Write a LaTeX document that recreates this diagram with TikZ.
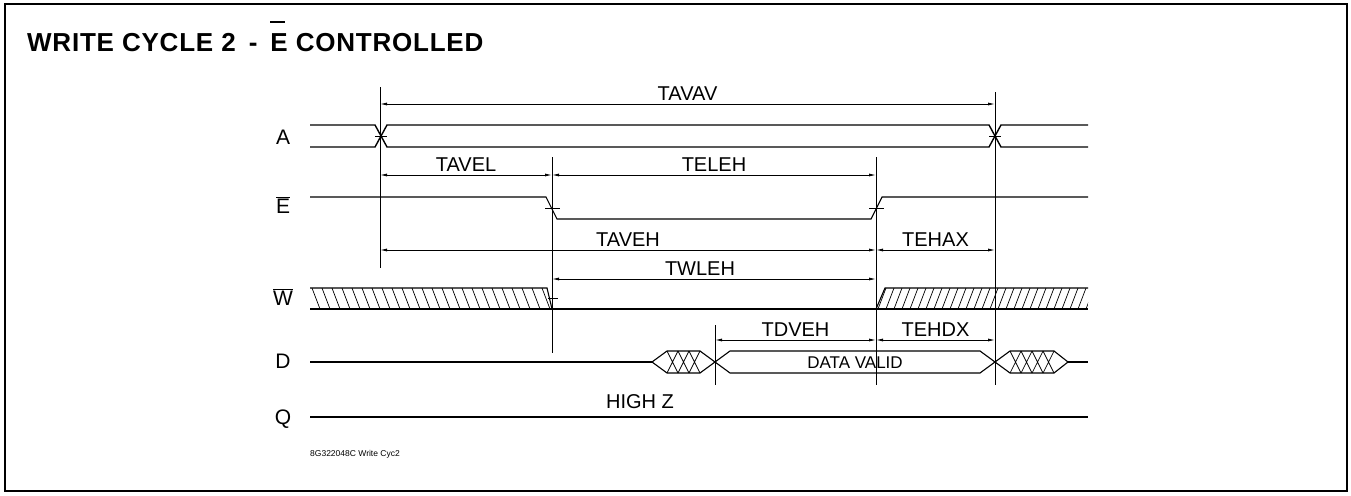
\documentclass[tikz,border=0pt]{standalone}
\usepackage{fontspec}
\setmainfont{Liberation Sans}
\usetikzlibrary{arrows.meta,positioning}

\begin{document}
\begin{tikzpicture}[
  x=1pt,y=-1pt,
  bus/.style={line width=1.4pt},
  wave/.style={line width=1.1pt},
  tline/.style={line width=0.8pt},
  hatch/.style={line width=0.7pt},
  tick/.style={line width=0.6pt},
  dim/.style={{Latex[length=7pt,width=3pt]}-{Latex[length=7pt,width=3pt]},line width=0.8pt},
  dimtext/.style={font=\fontsize{20}{22}\selectfont,inner sep=0pt},
  sigtext/.style={font=\fontsize{21}{23}\selectfont,inner sep=0pt,anchor=base}
]
\useasboundingbox (0,0) rectangle (1351,495);
\draw[line width=2.2pt] (5,4) rectangle (1347,491);

% title
\node[anchor=base west,inner sep=0pt,font=\bfseries\fontsize{26}{29}\selectfont\addfontfeature{LetterSpace=3}] (title) at (27,52)
  {WRITE CYCLE 2\hspace{13pt}-\hspace{13pt}\makebox[0pt][l]{\raisebox{29pt}{\rule{15pt}{2pt}}}E CONTROLLED};

% signal names
\node[sigtext] (sigA) at (283,144) {A};
\node[sigtext] (sigE) at (283,213) {$\overline{\mbox{E}}$};
\node[sigtext] (sigW) at (283,305) {$\overline{\mbox{W}}$};
\node[sigtext] (sigD) at (283,368) {D};
\node[sigtext] (sigQ) at (283,424) {Q};

% timing edges
\coordinate (a0) at (380,87);  \coordinate (a1) at (380,268);
\coordinate (e0) at (552,157); \coordinate (e1) at (552,353);
\coordinate (h0) at (876,157); \coordinate (h1) at (876,385);
\coordinate (b0) at (995,92);  \coordinate (b1) at (995,385);
\coordinate (d0) at (715,325); \coordinate (d1) at (715,385);
\draw[tline] (a0) -- (a1);
\draw[tline] (e0) -- (e1);
\draw[tline] (h0) -- (h1);
\draw[tline] (b0) -- (b1);
\draw[tline] (d0) -- (d1);

% A
\draw[bus] (310,125) -- (375,125) -- (387,147) -- (989,147) -- (1001,125) -- (1088,125);
\draw[bus] (310,147) -- (375,147) -- (387,125) -- (989,125) -- (1001,147) -- (1088,147);
\draw[tick] (375,136) -- (387,136) (989,136) -- (1001,136);

% E
\draw[wave] (310,197) -- (546,197) -- (557,219) -- (871,219) -- (882,197) -- (1088,197);
\draw[tick] (545,208) -- (560,208) (869,208) -- (884,208);

% W
\begin{scope}
  \clip (310,288) -- (547,288) -- (552,309) -- (310,309) -- cycle;
  \foreach \x in {302,312,...,562} \draw[hatch] (\x,288) -- (\x+8,309);
\end{scope}
\begin{scope}
  \clip (876,309) -- (885,288) -- (1088,288) -- (1088,309) -- cycle;
  \foreach \x in {878,886,...,1102} \draw[hatch] (\x,309) -- (\x+8,288);
\end{scope}
\draw[wave] (310,288) -- (547,288) -- (552,309);
\draw[wave] (876,309) -- (885,288) -- (1088,288);
\draw[line width=1.7pt] (310,309) -- (1088,309);
\draw[tick] (548,298) -- (558,298);

% D
\draw[wave] (310,362) -- (652,362);
\draw[wave] (652,362) -- (667,351) -- (700,351) -- (715,362) -- (700,373) -- (667,373) -- cycle;
\foreach \x in {667,678,689} \draw[hatch] (\x,351) -- (\x+11,373) (\x+11,351) -- (\x,373);
\draw[wave] (715,362) -- (730,351) -- (980,351) -- (995,362) -- (980,373) -- (730,373) -- cycle;
\node[font=\fontsize{17}{19}\selectfont,inner sep=0pt] (valid) at (855,363) {DATA VALID};
\draw[wave] (995,362) -- (1010,351) -- (1054,351) -- (1068,362) -- (1054,373) -- (1010,373) -- cycle;
\foreach \x in {1010,1021,1032,1043} \draw[hatch] (\x,351) -- (\x+11,373) (\x+11,351) -- (\x,373);
\draw[wave] (1068,362) -- (1088,362);

% Q
\draw[wave] (310,417) -- (1088,417);
\node[dimtext] (highz) at (640,402) {HIGH Z};

% timing parameters
\coordinate (yavav) at (0,104);
\coordinate (yel) at (0,175);
\coordinate (yeh) at (0,250);
\coordinate (ywl) at (0,279);
\coordinate (ydv) at (0,340);
\draw[dim] (a0 |- yavav) -- (b0 |- yavav) node[midway,above=3pt,dimtext] (tavav) {TAVAV};
\draw[dim] (a0 |- yel) -- (e0 |- yel) node[midway,above=3pt,dimtext] (tavel) {TAVEL};
\draw[dim] (e0 |- yel) -- (h0 |- yel) node[midway,above=3pt,dimtext] (teleh) {TELEH};
\draw[dim] (a0 |- yeh) -- (h0 |- yeh) node[midway,above=3pt,dimtext] (taveh) {TAVEH};
\draw[dim] (h0 |- yeh) -- (b0 |- yeh) node[midway,above=3pt,dimtext] (tehax) {TEHAX};
\draw[dim] (e0 |- ywl) -- (h0 |- ywl) node[midway,above=3pt,dimtext,xshift=-14pt] (twleh) {TWLEH};
\draw[dim] (d0 |- ydv) -- (h0 |- ydv) node[midway,above=3pt,dimtext] (tdveh) {TDVEH};
\draw[dim] (h0 |- ydv) -- (b0 |- ydv) node[midway,above=3pt,dimtext] (tehdx) {TEHDX};

\node[anchor=base west,inner sep=0pt,font=\fontsize{8.5}{10}\selectfont] (figref) at (310,456) {8G322048C Write Cyc2};
\end{tikzpicture}
\end{document}
